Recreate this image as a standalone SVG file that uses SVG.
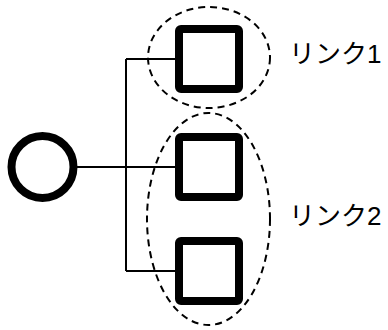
<svg xmlns="http://www.w3.org/2000/svg" width="388" height="330" viewBox="0 0 388 330">
<style>
.n{fill:#fff;stroke:#000;stroke-width:8}
.g{fill:none;stroke:#000;stroke-width:2;stroke-dasharray:7 5}
.c{fill:none;stroke:#000;stroke-width:2}
.t{font-family:"Liberation Sans","Noto Sans CJK JP",sans-serif;font-size:26px;fill:#000}
</style>
<rect width="388" height="330" fill="#fff"/>
<g id="connectors">
<path class="c" d="M77 167H175M126 59V271M126 59H175M126 271H175"/>
</g>
<g id="circle"><circle class="n" cx="42.5" cy="167" r="31"/></g>
<g id="box1"><rect class="n" x="179" y="29" width="60" height="60" rx="2"/></g>
<g id="box2"><rect class="n" x="179" y="137" width="60" height="60" rx="2"/></g>
<g id="box3"><rect class="n" x="179" y="241" width="60" height="60" rx="2"/></g>
<g id="link1"><ellipse class="g" cx="209" cy="57.5" rx="61" ry="50.5"/><text class="t" x="289" y="63">リンク1</text></g>
<g id="link2"><ellipse class="g" cx="208.5" cy="219" rx="61.5" ry="106"/><text class="t" x="289" y="225">リンク2</text></g>
</svg>
